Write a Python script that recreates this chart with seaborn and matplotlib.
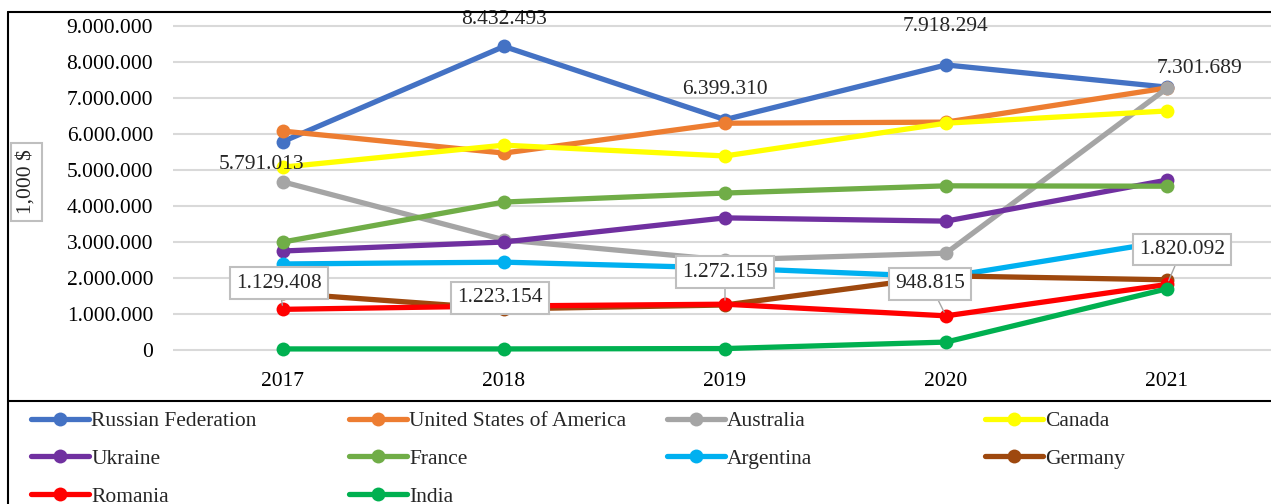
import matplotlib
matplotlib.use("Agg")
import matplotlib.pyplot as plt
import seaborn as sns
import pandas as pd
from matplotlib.lines import Line2D
from matplotlib.ticker import FuncFormatter

years = [2017, 2018, 2019, 2020, 2021]

russia    = [5791013, 8432493, 6399310, 7918294, 7301689]
usa       = [6080000, 5470000, 6300000, 6330000, 7280000]
australia = [4670000, 3060000, 2500000, 2690000, 7270000]
canada    = [5080000, 5690000, 5390000, 6300000, 6640000]
ukraine   = [2750000, 3000000, 3670000, 3580000, 4720000]
france    = [3000000, 4110000, 4360000, 4560000, 4550000]
argentina = [2390000, 2440000, 2280000, 2030000, 3020000]
germany   = [1580000, 1140000, 1250000, 2060000, 1950000]
romania   = [1129408, 1223154, 1272159, 948815, 1820092]
india     = [30000, 30000, 40000, 220000, 1700000]

countries = ["Russian Federation", "United States of America", "Australia", "Canada",
             "Ukraine", "France", "Argentina", "Germany", "Romania", "India"]
series = [russia, usa, australia, canada, ukraine, france, argentina, germany, romania, india]
colors = ["#4472C4", "#ED7D31", "#A5A5A5", "#FFFF00", "#7030A0",
          "#70AD47", "#00B0F0", "#9E480E", "#FF0000", "#00B050"]

rows = []
for name, vals in zip(countries, series):
    for yr, v in zip(years, vals):
        rows.append({"year": yr, "value": v, "country": name})
df = pd.DataFrame(rows)

sns.set_style("white")
plt.rcParams["font.family"] = ["Liberation Serif", "DejaVu Serif"]
FS = 15.5

W, H = 1271, 504
fig = plt.figure(figsize=(W / 100, H / 100), dpi=100)

# axes: 2017 at x=283px, 221px per year; y: 0 at 350px, 36px per million
ymin, ymax = -0.5e6, 9.3e6
ppm = 36 / 1e6
ax_left = 283 - 110.5
ax_w = 5 * 221
ax_bottom_px = 350 + (0 - ymin) * ppm
ax_top_px = 350 - ymax * ppm
ax = fig.add_axes([ax_left / W, 1 - ax_bottom_px / H, ax_w / W, (ax_bottom_px - ax_top_px) / H])

sns.lineplot(data=df, x="year", y="value", hue="country", hue_order=countries,
             palette=dict(zip(countries, colors)), marker="o", markersize=10,
             markeredgewidth=0, linewidth=3.8, legend=False, ax=ax, clip_on=False)

ax.set_xlim(2016.5, 2021.5)
ax.set_ylim(ymin, ymax)
ax.set_xticks(years)
ax.set_xticklabels([str(y) for y in years])
ax.set_yticks(range(0, 9000001, 1000000))
ax.yaxis.set_major_formatter(FuncFormatter(lambda v, p: f"{int(v):,}".replace(",", ".")))
ax.tick_params(axis="both", labelsize=FS, length=0, colors="black")
ax.tick_params(axis="y", pad=14)
ax.tick_params(axis="x", pad=3)
ax.grid(axis="y", color="#D9D9D9", linewidth=1.5)
ax.set_axisbelow(True)
for s in ax.spines.values():
    s.set_visible(False)
ax.set_xlabel("")
ax.set_ylabel("")
ax.patch.set_alpha(0)

# Russian Federation labels (plain)
ru_off = [(-21, -23), (0, 27), (0, 30), (0, 38), (33, 19)]
for yr, v, off in zip(years, russia, ru_off):
    ax.annotate(f"{v:,}".replace(",", "."), (yr, v), xytext=off, textcoords="offset pixels",
                ha="center", va="center", fontsize=FS)

# Romania labels (boxed with leader lines)
ro_off = [(-4, 26), (-4, 8), (0, 32), (-16, 32), (15, 35)]
for yr, v, off in zip(years, romania, ro_off):
    ax.annotate(f"{v:,}".replace(",", "."), (yr, v), xytext=off, textcoords="offset pixels",
                ha="center", va="center", fontsize=FS, zorder=10,
                bbox=dict(boxstyle="square,pad=0.3", fc="white", ec="#BFBFBF", lw=1.5),
                arrowprops=dict(arrowstyle="-", color="#A6A6A6", lw=1, shrinkA=0, shrinkB=3))

# y label box
fig.text(26.5 / W, 1 - 182 / H, "1,000 $", rotation=90, ha="center", va="center", fontsize=FS,
         bbox=dict(boxstyle="square,pad=0.3", fc="white", ec="#BFBFBF", lw=1.5))

# frame lines
fig.add_artist(Line2D([8 / W, 8 / W], [0, 1 - 12 / H], transform=fig.transFigure, color="black", lw=1.5))
fig.add_artist(Line2D([8 / W, 1], [1 - 12 / H, 1 - 12 / H], transform=fig.transFigure, color="black", lw=1.5))
fig.add_artist(Line2D([8 / W, 1], [1 - 401 / H, 1 - 401 / H], transform=fig.transFigure, color="black", lw=1.5))

# legend: 4 columns, row-major order
handles = [Line2D([], [], color=c, marker="o", markersize=10, markeredgewidth=0, linewidth=3.8)
           for c in colors]
for col in range(4):
    idx = list(range(col, len(countries), 4))
    fig.legend([handles[i] for i in idx], [countries[i] for i in idx],
               loc="upper left", bbox_to_anchor=((31 + col * 318) / W, 1 - 411 / H),
               frameon=False, fontsize=FS, handlelength=2.7, handletextpad=0.1,
               borderpad=0, borderaxespad=0, labelspacing=0.82)

fig.savefig("out.png", dpi=100)
plt.close(fig)
